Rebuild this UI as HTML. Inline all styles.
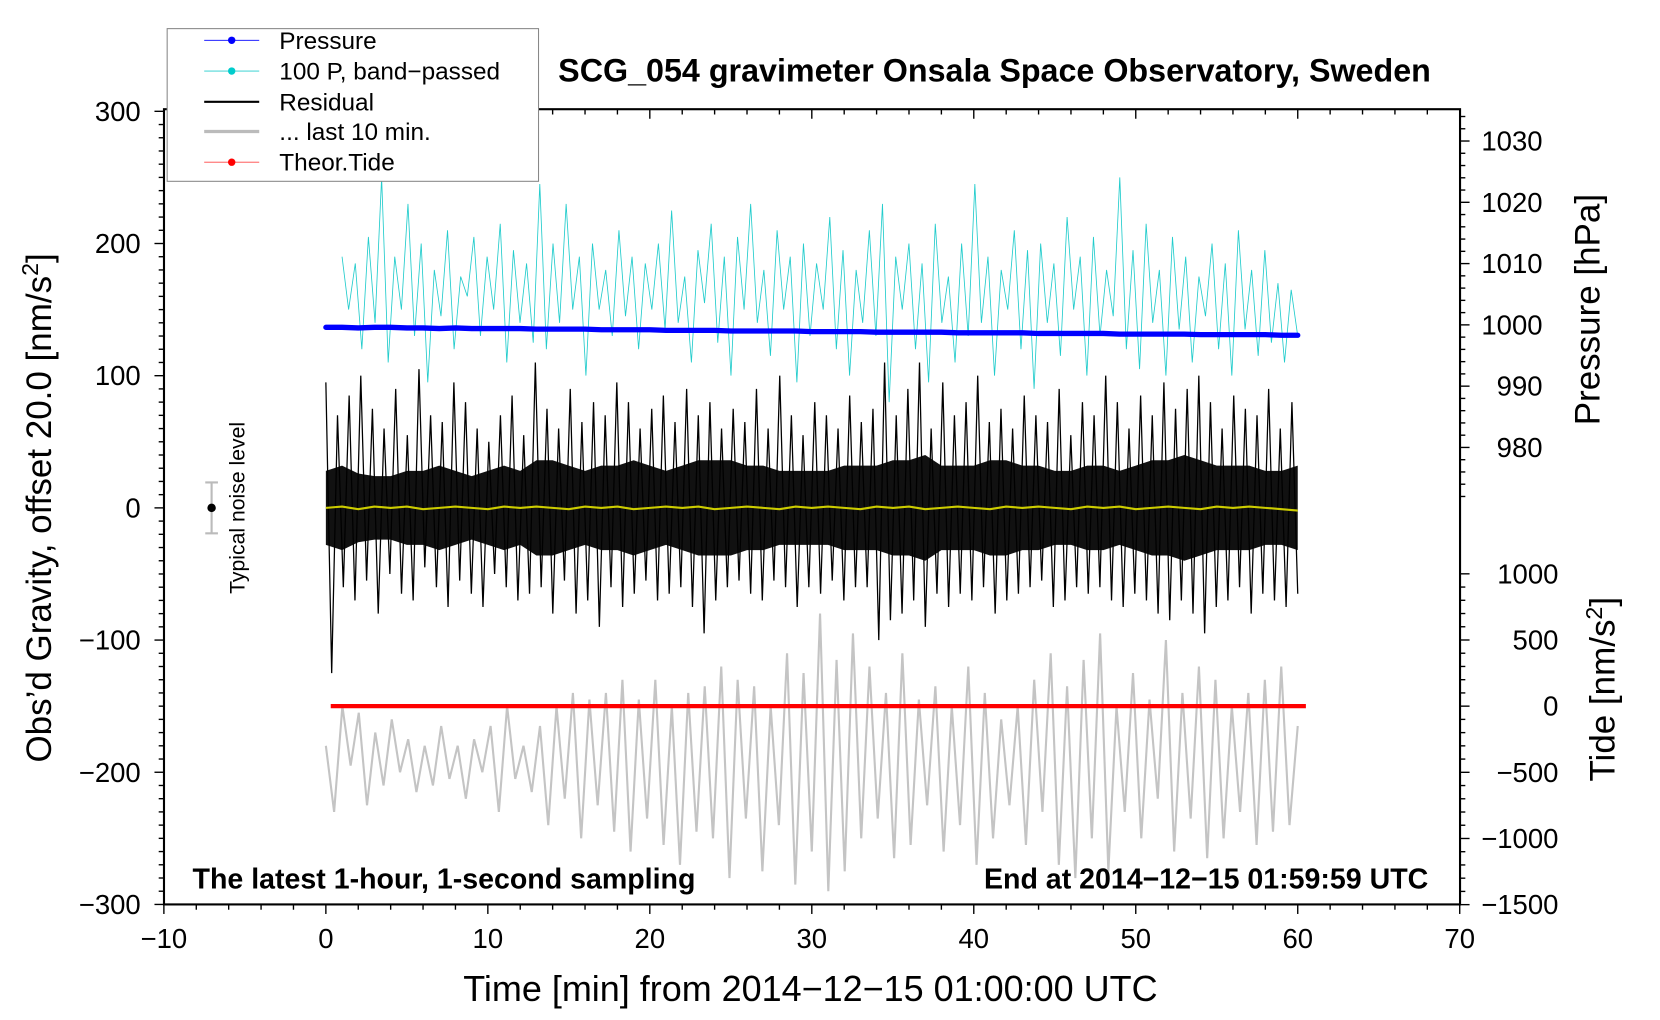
<!DOCTYPE html>
<html><head><meta charset="utf-8"><style>
html,body{margin:0;padding:0;background:#fff;}
svg{display:block;font-family:"Liberation Sans",sans-serif;}
</style></head><body>
<svg id="chart" width="1660" height="1020" viewBox="0 0 1569 962" preserveAspectRatio="none" xmlns="http://www.w3.org/2000/svg">
<g id="marks"></g>
<g id="axes"></g>
<text x="940" y="77" font-size="30.5" font-weight="bold" text-anchor="middle">SCG_054 gravimeter Onsala Space Observatory, Sweden</text>
<text x="766" y="944" font-size="34" text-anchor="middle">Time [min] from 2014−12−15 01:00:00 UTC</text>
<text transform="translate(48,479) rotate(-90)" font-size="33" text-anchor="middle">Obs’d Gravity, offset 20.0 [nm/s<tspan dy="-12" font-size="22">2</tspan><tspan dy="12">]</tspan></text>
<text transform="translate(1512,292) rotate(-90)" font-size="33" text-anchor="middle">Pressure [hPa]</text>
<text transform="translate(1526,650) rotate(-90)" font-size="33" text-anchor="middle">Tide [nm/s<tspan dy="-12" font-size="22">2</tspan><tspan dy="12">]</tspan></text>
<text x="182" y="838" font-size="27" font-weight="bold">The latest 1-hour, 1-second sampling</text>
<text x="1350" y="838" font-size="27" font-weight="bold" text-anchor="end">End at 2014−12−15 01:59:59 UTC</text>
<g>
<line x1="200" y1="455" x2="200" y2="503" stroke="#bbb" stroke-width="2"/>
<line x1="194" y1="455" x2="206" y2="455" stroke="#bbb" stroke-width="2"/>
<line x1="194" y1="503" x2="206" y2="503" stroke="#bbb" stroke-width="2"/>
<circle cx="200" cy="479" r="4" fill="#000"/>
<text transform="translate(231,479) rotate(-90)" font-size="20" text-anchor="middle">Typical noise level</text>
</g>
<g>
<rect x="158" y="27" width="351" height="144" fill="#fff" stroke="#888" stroke-width="1"/>
<g><line x1="193" y1="38" x2="245" y2="38" stroke="#00f" stroke-width="0.8"/><circle cx="219" cy="38" r="3.5" fill="#00f"/><text x="264" y="46" font-size="23">Pressure</text></g>
<g><line x1="193" y1="67" x2="245" y2="67" stroke="#2cc" stroke-width="0.8"/><circle cx="219" cy="67" r="3.5" fill="#0cc"/><text x="264" y="75" font-size="23">100 P, band−passed</text></g>
<g><line x1="193" y1="96" x2="245" y2="96" stroke="#000" stroke-width="2"/><text x="264" y="104" font-size="23">Residual</text></g>
<g><line x1="193" y1="124" x2="245" y2="124" stroke="#bbb" stroke-width="3"/><text x="264" y="132" font-size="23">... last 10 min.</text></g>
<g><line x1="193" y1="153" x2="245" y2="153" stroke="#f44" stroke-width="0.8"/><circle cx="219" cy="153" r="3.5" fill="#f00"/><text x="264" y="161" font-size="23">Theor.Tide</text></g>
</g>
</svg>
<script>
// ---- data ----
const xTicks=[-10,0,10,20,30,40,50,60,70];
const yTicks=[-300,-200,-100,0,100,200,300];
const pTicks=[980,990,1000,1010,1020,1030];
const tTicks=[-1500,-1000,-500,0,500,1000];
const pressure=[999.6,999.6,999.5,999.6,999.6,999.5,999.5,999.4,999.5,999.4,999.4,999.4,999.4,999.3,999.3,999.3,999.3,999.2,999.2,999.2,999.2,999.1,999.1,999.1,999.1,999.0,999.0,999.0,999.0,999.0,998.9,998.9,998.9,998.9,998.8,998.8,998.8,998.8,998.8,998.7,998.7,998.7,998.7,998.7,998.6,998.6,998.6,998.6,998.6,998.5,998.5,998.5,998.5,998.5,998.4,998.4,998.4,998.4,998.4,998.3,998.3];
const bandPassed=[190,150,185,120,205,140,250,110,190,150,230,130,200,95,180,145,210,120,175,160,205,130,190,150,215,110,195,140,185,125,245,120,200,140,230,150,190,100,200,150,180,130,210,145,190,120,185,150,200,135,225,140,175,110,195,155,215,125,190,100,205,150,230,140,180,115,210,150,190,95,200,130,185,150,220,120,195,100,180,140,210,130,230,80,190,150,200,120,185,95,215,140,175,110,200,130,245,140,190,100,180,150,210,120,195,90,200,140,185,115,220,150,190,100,205,130,180,145,250,120,195,105,215,140,180,100,205,135,190,110,175,145,200,120,185,100,210,135,180,115,195,125,170,110,165,130];
const residual=[95,-125,70,-60,85,-70,100,-55,75,-80,60,-50,90,-65,55,-70,105,-45,70,-60,65,-75,95,-55,80,-65,60,-75,50,-50,70,-60,85,-70,55,-65,110,-60,75,-80,60,-55,90,-80,65,-70,80,-90,70,-60,95,-75,80,-65,60,-55,75,-70,85,-65,65,-60,90,-75,70,-95,80,-70,60,-60,75,-55,65,-65,90,-70,60,-55,100,-60,70,-75,55,-60,80,-65,70,-55,60,-70,85,-60,65,-60,75,-100,110,-85,70,-80,90,-70,110,-90,60,-65,95,-75,70,-65,80,-70,100,-60,65,-80,75,-70,60,-65,85,-60,70,-55,65,-75,90,-70,55,-60,80,-65,70,-60,100,-70,80,-75,60,-65,85,-70,70,-80,95,-85,75,-70,90,-80,100,-95,80,-75,60,-70,85,-60,75,-80,70,-65,90,-70,60,-75,80,-65];
const residualCore=[28,32,26,24,24,28,28,32,28,24,28,32,28,36,36,32,28,32,32,36,32,28,32,36,36,36,32,32,28,28,28,28,32,32,32,36,36,40,32,32,32,36,36,32,32,28,28,32,32,28,32,36,36,40,36,32,32,32,28,28,32];
const trend=[0,1,-1,1,0,1,-1,0,1,0,-1,1,0,1,0,-1,1,0,1,-1,0,1,0,1,-1,0,1,0,-1,1,0,1,0,-1,1,0,1,-1,0,1,0,-1,1,0,1,0,-1,1,0,1,-1,0,1,0,-1,1,0,1,0,-1,-2];
const last10=[-180,-230,-150,-195,-155,-225,-170,-210,-160,-200,-175,-215,-180,-210,-165,-205,-180,-220,-175,-200,-165,-230,-150,-205,-180,-215,-165,-240,-150,-220,-140,-250,-145,-225,-140,-245,-130,-260,-145,-235,-130,-255,-150,-270,-140,-245,-135,-250,-120,-280,-130,-235,-135,-275,-150,-240,-110,-285,-125,-260,-80,-290,-115,-275,-95,-250,-120,-235,-140,-265,-110,-255,-145,-225,-135,-260,-150,-240,-120,-270,-140,-250,-160,-225,-150,-255,-130,-230,-110,-270,-135,-280,-115,-250,-95,-275,-150,-230,-125,-250,-145,-220,-100,-260,-140,-235,-120,-265,-130,-250,-150,-230,-140,-255,-130,-245,-120,-240,-165];
const tideVals=[0,0,0,0,0,0,0,0,0,0,0];

// ---- scales ----
const X=v=>308+(v-0)*15.31;
const Y=v=>479-v*1.2467;
const YP=v=>133+(1030-v)*5.78;
const YT=v=>666-v*0.1248;
const ns='http://www.w3.org/2000/svg';
const marks=document.getElementById('marks');
const axes=document.getElementById('axes');
function mk(tag,attrs,parent){const e=document.createElementNS(ns,tag);for(const k in attrs)e.setAttribute(k,attrs[k]);parent.appendChild(e);return e;}
function pts(arr,x0,x1,yf){const n=arr.length;return arr.map((v,i)=>X(x0+(x1-x0)*i/(n-1)).toFixed(1)+','+yf(v).toFixed(1)).join(' ');}

let e=mk('polyline',{points:pts(bandPassed,1,60,Y),fill:'none',stroke:'#2cc','stroke-width':0.8},marks);


e=mk('polyline',{points:pts(pressure,0,60,YP),fill:'none',stroke:'#00f','stroke-width':5,'stroke-linecap':'round'},marks);


const up=residualCore.map((v,i)=>X(i*60/(residualCore.length-1)).toFixed(1)+','+Y(v).toFixed(1));
const dn=residualCore.map((v,i)=>X(i*60/(residualCore.length-1)).toFixed(1)+','+Y(-v).toFixed(1)).reverse();
e=mk('polygon',{points:up.concat(dn).join(' '),fill:'#111'},marks);


e=mk('polyline',{points:pts(residual,0,60,Y),fill:'none',stroke:'#000','stroke-width':1.2},marks);


e=mk('polyline',{points:pts(trend,0,60,Y),fill:'none',stroke:'#cc0','stroke-width':2},marks);


e=mk('polyline',{points:pts(last10,0,60,Y),fill:'none',stroke:'#c4c4c4','stroke-width':2},marks);


e=mk('polyline',{points:pts(tideVals,0.3,60.5,YT),fill:'none',stroke:'#f00','stroke-width':4},marks);



e=mk('rect',{x:155,y:103,width:1225,height:750,fill:'none',stroke:'#000','stroke-width':2},axes);


for(let v=-10;v<=70;v+=2){const x=X(v);const maj=v%10===0;
 mk('line',{x1:x,y1:853,x2:x,y2:853+(maj?9:5),stroke:'#000','stroke-width':1.3},axes);
 mk('line',{x1:x,y1:103,x2:x,y2:103+(maj?9:5),stroke:'#000','stroke-width':1.3},axes);}
xTicks.forEach(v=>{const t=mk('text',{x:X(v),y:894,'font-size':26,'text-anchor':'middle'},axes);t.textContent=v<0?'−'+(-v):v;

});
for(let v=-300;v<=300;v+=10){const y=Y(v);const maj=v%100===0;
 mk('line',{x1:155,y1:y,x2:155-(maj?9:5),y2:y,stroke:'#000','stroke-width':1.3},axes);}
yTicks.forEach(v=>{const t=mk('text',{x:133,y:Y(v)+9,'font-size':26,'text-anchor':'end'},axes);t.textContent=v<0?'−'+(-v):v;

});
for(let v=964;v<=1040;v+=2){const y=YP(v);if(y<103||y>470)continue;const maj=v%10===0;
 mk('line',{x1:1380,y1:y,x2:1380+(maj?9:5),y2:y,stroke:'#000','stroke-width':1.3},axes);}
pTicks.forEach(v=>{const t=mk('text',{x:1458,y:YP(v)+9,'font-size':26,'text-anchor':'end'},axes);t.textContent=v;

});
for(let v=-1500;v<=1000;v+=100){const y=YT(v);const maj=v%500===0;
 mk('line',{x1:1380,y1:y,x2:1380+(maj?9:5),y2:y,stroke:'#000','stroke-width':1.3},axes);}
tTicks.forEach(v=>{const t=mk('text',{x:1473,y:YT(v)+9,'font-size':26,'text-anchor':'end'},axes);t.textContent=v<0?'−'+(-v):v;

});
</script>
</body></html>
